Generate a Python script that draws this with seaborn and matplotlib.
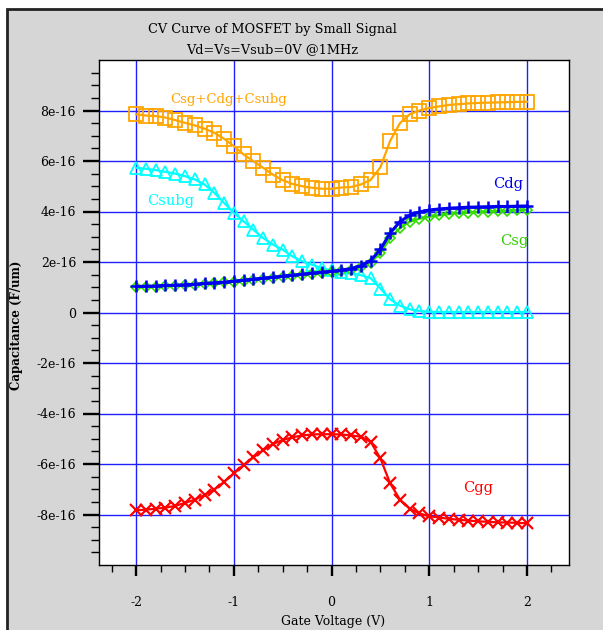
import numpy as np
import pandas as pd
import matplotlib
matplotlib.use("Agg")
import matplotlib.pyplot as plt
from matplotlib.patches import Rectangle
from matplotlib.ticker import MultipleLocator, FixedLocator, FuncFormatter
import seaborn as sns

# gate voltage sweep (V)
vg = [-2.0, -1.9, -1.8, -1.7, -1.6, -1.5, -1.4, -1.3, -1.2, -1.1, -1.0,
      -0.9, -0.8, -0.7, -0.6, -0.5, -0.4, -0.3, -0.2, -0.1, 0.0,
      0.1, 0.2, 0.3, 0.4, 0.5, 0.6, 0.7, 0.8, 0.9, 1.0,
      1.1, 1.2, 1.3, 1.4, 1.5, 1.6, 1.7, 1.8, 1.9, 2.0]

# capacitances in units of 1e-16 F/um
c_sum = [7.85, 7.80, 7.78, 7.72, 7.62, 7.51, 7.41, 7.28, 7.12, 6.88, 6.59,
         6.26, 5.99, 5.73, 5.46, 5.24, 5.09, 5.00, 4.94, 4.90, 4.90,
         4.95, 4.97, 5.07, 5.25, 5.75, 6.80, 7.50, 7.85, 8.00, 8.10,
         8.16, 8.22, 8.25, 8.28, 8.30, 8.31, 8.32, 8.33, 8.34, 8.35]
c_subg = [5.73, 5.69, 5.64, 5.57, 5.50, 5.40, 5.27, 5.07, 4.74, 4.34, 3.94,
          3.61, 3.28, 2.95, 2.69, 2.49, 2.22, 2.03, 1.89, 1.76, 1.67,
          1.60, 1.55, 1.48, 1.36, 0.95, 0.52, 0.27, 0.13, 0.06, 0.03,
          0.02, 0.02, 0.02, 0.02, 0.02, 0.02, 0.02, 0.02, 0.02, 0.02]
c_dg = [1.03, 1.04, 1.05, 1.07, 1.08, 1.10, 1.12, 1.15, 1.18, 1.20, 1.24,
        1.28, 1.32, 1.36, 1.40, 1.44, 1.48, 1.52, 1.56, 1.60, 1.63,
        1.68, 1.74, 1.85, 2.05, 2.50, 3.15, 3.60, 3.85, 3.98, 4.06,
        4.10, 4.13, 4.15, 4.17, 4.18, 4.19, 4.20, 4.20, 4.21, 4.22]
c_sg = [1.00, 1.01, 1.02, 1.04, 1.06, 1.08, 1.10, 1.13, 1.16, 1.19, 1.22,
        1.26, 1.30, 1.34, 1.38, 1.42, 1.46, 1.50, 1.54, 1.58, 1.61,
        1.65, 1.70, 1.80, 1.98, 2.36, 2.95, 3.35, 3.60, 3.72, 3.80,
        3.85, 3.90, 3.93, 3.96, 3.98, 4.00, 4.02, 4.03, 4.05, 4.07]
c_gg = [-7.83, -7.81, -7.77, -7.73, -7.66, -7.54, -7.41, -7.23, -7.01, -6.71, -6.37,
        -6.04, -5.74, -5.45, -5.21, -5.05, -4.94, -4.87, -4.83, -4.82, -4.82,
        -4.83, -4.87, -4.92, -5.12, -5.78, -6.77, -7.41, -7.77, -7.96, -8.07,
        -8.12, -8.17, -8.21, -8.24, -8.27, -8.29, -8.31, -8.32, -8.33, -8.35]

# y tick positions (1e-16 units)
y_major = [-8, -6, -4, -2, 0, 2, 4, 6, 8]
y_minor = [-9.5, -9, -8.5, -7.5, -7, -6.5, -5.5, -5, -4.5, -3.5, -3, -2.5,
           -1.5, -1, -0.5, 0.5, 1, 1.5, 2.5, 3, 3.5, 4.5, 5, 5.5, 6.5, 7,
           7.5, 8.5, 9, 9.5]

SCALE = 1e-16
FONT = "DejaVu Serif"

df = pd.DataFrame({"vg": vg})
for name, vals in [("sum", c_sum), ("subg", c_subg), ("dg", c_dg),
                   ("sg", c_sg), ("gg", c_gg)]:
    df[name] = np.array(vals) * SCALE

fig = plt.figure(figsize=(6.03, 6.30), dpi=100)
fig.patch.set_facecolor("white")
# grey panel with dark frame on the left/top
fig.patches.append(Rectangle((7 / 603, -0.05), 1.2, 1 - 9 / 630 + 0.05,
                             transform=fig.transFigure, facecolor="#d6d6d6",
                             edgecolor="#222222", lw=2, zorder=-1))

ax = fig.add_axes([99 / 603, 1 - 565 / 630, 470 / 603, 505 / 630])
ax.set_facecolor("white")

# (column, colour, marker, size, line width, marker edge width)
series = [
    ("sum", "#ffa500", "s", 9.5, 1.6, 1.3),
    ("subg", "#00ffff", "^", 8.5, 1.6, 1.3),
    ("sg", "#33dd00", "D", 5.5, 1.8, 1.2),
    ("dg", "#0000f0", "+", 9, 2.2, 1.8),
    ("gg", "#ff0000", "x", 8, 1.6, 1.6),
]
for col, color, mk, ms, lw, mew in series:
    sns.lineplot(data=df, x="vg", y=col, ax=ax, color=color, marker=mk,
                 markersize=ms, lw=lw, markeredgewidth=mew,
                 markeredgecolor=color, markerfacecolor="none")

ax.set_xlim(-2.38, 2.43)
ax.set_ylim(-1e-15, 1e-15)
ax.xaxis.set_major_locator(MultipleLocator(1))
ax.xaxis.set_minor_locator(MultipleLocator(0.25))
ax.yaxis.set_major_locator(FixedLocator([v * SCALE for v in y_major]))
ax.yaxis.set_minor_locator(FixedLocator([v * SCALE for v in y_minor]))


def yfmt(v, pos):
    n = int(round(v / SCALE))
    return "0" if n == 0 else f"{n}e-16"


ax.yaxis.set_major_formatter(FuncFormatter(yfmt))
ax.xaxis.set_major_formatter(FuncFormatter(lambda v, p: f"{v:g}"))

ax.grid(True, which="major", color="#2020ff", lw=1.0)
ax.set_axisbelow(True)
for s in ax.spines.values():
    s.set_color("black")
    s.set_linewidth(1.0)

ax.tick_params(axis="y", which="major", direction="out", length=11.5, width=1.7,
               pad=5, labelsize=9)
ax.tick_params(axis="y", which="minor", direction="out", length=5.8, width=1.0)
ax.tick_params(axis="x", which="major", direction="out", length=8, width=1.7,
               pad=14, labelsize=9)
ax.tick_params(axis="x", which="minor", direction="out", length=5, width=1.0)
for lab in ax.get_xticklabels() + ax.get_yticklabels():
    lab.set_fontfamily(FONT)

ax.set_xlabel("")
ax.set_ylabel("")

fig.text(272 / 603, 1 - 30 / 630, "CV Curve of MOSFET by Small Signal",
         ha="center", va="center", fontsize=9.3, family=FONT)
fig.text(272 / 603, 1 - 50 / 630, "Vd=Vs=Vsub=0V @1MHz",
         ha="center", va="center", fontsize=9.3, family=FONT)
fig.text(17 / 603, 1 - 325 / 630, "Capacitance (F/um)", rotation=90,
         ha="center", va="center", fontsize=8.5, family=FONT, fontweight="bold")
fig.text(333 / 603, 1 - 622 / 630, "Gate Voltage (V)", ha="center",
         va="center", fontsize=9, family=FONT)

ax.text(-1.05, 8.44 * SCALE, "Csg+Cdg+Csubg", color="#ffa500", ha="center",
        va="center", fontsize=9.5, family=FONT)
ax.text(-1.65, 4.4 * SCALE, "Csubg", color="#00ffff", ha="center",
        va="center", fontsize=10.5, family=FONT)
ax.text(1.81, 5.07 * SCALE, "Cdg", color="#0000f0", ha="center",
        va="center", fontsize=10.5, family=FONT)
ax.text(1.87, 2.82 * SCALE, "Csg", color="#33cc00", ha="center",
        va="center", fontsize=10.5, family=FONT)
ax.text(1.5, -6.97 * SCALE, "Cgg", color="#ff0000", ha="center",
        va="center", fontsize=10.5, family=FONT)

fig.savefig("out.png", dpi=100)
